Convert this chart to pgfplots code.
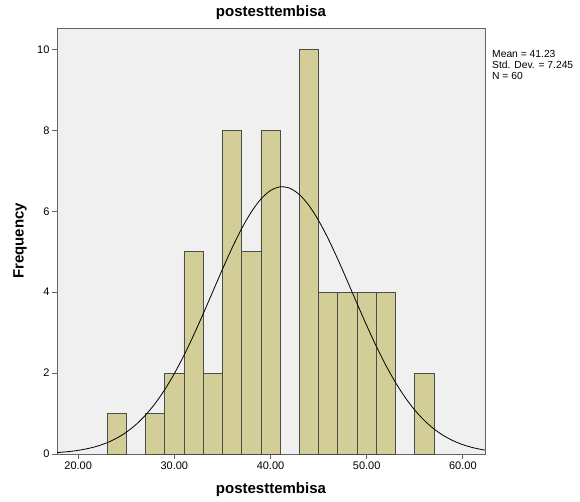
\documentclass[border=0pt]{standalone}
\usepackage{fontspec}
\setmainfont{Liberation Sans}
\usepackage{pgfplots}
\pgfplotsset{compat=1.18}

\definecolor{plotbg}{RGB}{240,240,240}
\definecolor{barfill}{RGB}{211,206,151}
\definecolor{framegray}{RGB}{100,100,100}

\begin{document}
\begin{tikzpicture}[x=1pt,y=1pt]
\begin{axis}[
    at={(0,0)}, anchor=south west,
    scale only axis,
    width=428pt, height=426pt,
    xmin=17.8, xmax=62.3,
    ymin=0, ymax=10.53,
    axis background/.style={fill=plotbg},
    axis line style={framegray, line width=0.9pt},
    xtick={20,30,40,50,60},
    xticklabels={20.00,30.00,40.00,50.00,60.00},
    ytick={0,2,4,6,8,10},
    xtick pos=bottom, ytick pos=left,
    tick align=outside,
    major tick length=5pt,
    tick style={framegray, line width=0.9pt},
    /pgf/number format/assume math mode=true,
    ticklabel style={font=\fontsize{11}{13}\selectfont, text=black},
    yticklabel style={xshift=1pt},
    xticklabel style={yshift=1pt},
    title={\textbf{postesttembisa}},
    title style={font=\fontsize{15}{17}\selectfont, at={(axis description cs:0.5,1.0212)}, anchor=center},
    xlabel={\textbf{postesttembisa}},
    xlabel style={font=\fontsize{15}{17}\selectfont, at={(axis description cs:0.5,-0.0845)}, anchor=center},
    ylabel={\textbf{Frequency}},
    ylabel style={font=\fontsize{15}{17}\selectfont, at={(axis description cs:-0.0864,0.5)}, anchor=center},
    clip=true,
]
% histogram bins (width 2)
\addplot[ybar, bar width=2, bar shift=0, fill=barfill, draw=black!70, line width=0.7pt]
coordinates {
(24,1) (28,1) (30,2) (32,5) (34,2) (36,8) (38,5) (40,8)
(44,10) (46,4) (48,4) (50,4) (52,4) (56,2)
};
% normal curve, mean 41.23, sd 7.245, N 60
\addplot[black, line width=0.8pt, smooth] coordinates {
(17.8,0.0354) (18,0.0387) (19,0.0596) (20,0.0902) (21,0.1339) (22,0.1950)
(23,0.2787) (24,0.3907) (25,0.5374) (26,0.7252) (27,0.9601) (28,1.2471)
(29,1.5893) (30,1.9875) (31,2.4382) (32,2.9347) (33,3.4658) (34,4.0159)
(35,4.5650) (36,5.0916) (37,5.5717) (38,5.9820) (39,6.3013) (40,6.5125)
(41,6.6037) (42,6.5698) (43,6.4128) (44,6.1414) (45,5.7704) (46,5.3195)
(47,4.8116) (48,4.2697) (49,3.7174) (50,3.1755) (51,2.6613) (52,2.1885)
(53,1.7656) (54,1.3976) (55,1.0853) (56,0.8269) (57,0.6182) (58,0.4535)
(59,0.3263) (60,0.2304) (61,0.1596) (62,0.1085) (62.3,0.0962)
};
\end{axis}
\node[anchor=north west, align=left, font=\fontsize{10.3}{11}\selectfont, inner sep=0pt]
  at (435,404) {Mean = 41.23\\Std. Dev. = 7.245\\N = 60};
\pgfresetboundingbox
\path (-57,-47) rectangle (523,454);
\end{tikzpicture}
\end{document}
